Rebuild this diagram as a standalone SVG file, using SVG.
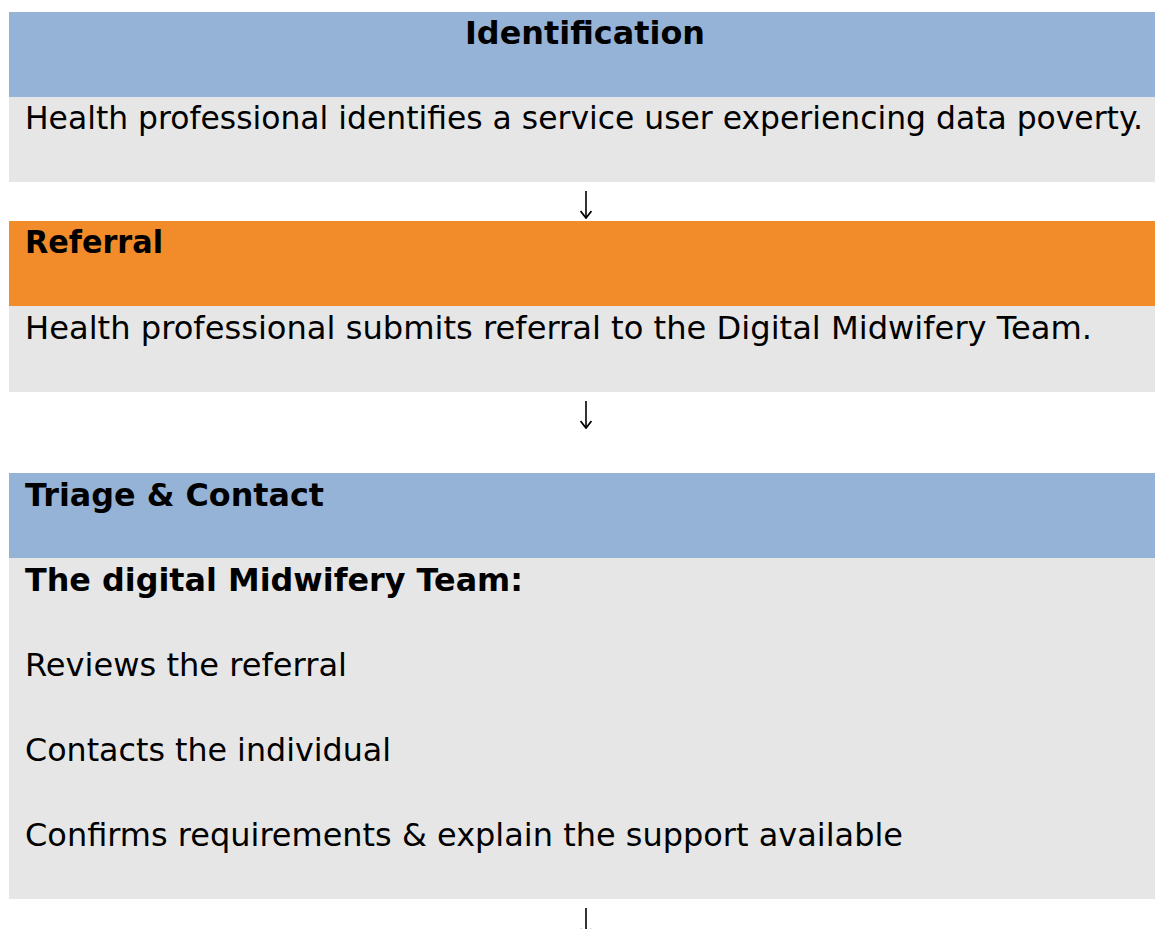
<svg xmlns="http://www.w3.org/2000/svg" width="1155" height="929" viewBox="0 0 1155 929">
  <style>
    .hdr-blue { fill: #95b3d7; }
    .hdr-orange { fill: #f28c2a; }
    .body { fill: #e6e6e6; }
    .t { font-family: "DejaVu Sans", Verdana, sans-serif; font-size: 31.5px; fill: #000; }
    .b { font-weight: bold; }
    .arrow { stroke: #000; stroke-width: 1.6; fill: none; }
  </style>
  <defs>
    <!-- open chevron head, drawn along +x so orient="auto" turns it with the line -->
    <marker id="head" viewBox="0 0 10 12" refX="9" refY="6" markerWidth="10" markerHeight="12" markerUnits="userSpaceOnUse" orient="auto">
      <path d="M2 0.5 L9 6 L2 11.5" fill="none" stroke="#000" stroke-width="1.8"/>
    </marker>
  </defs>

  <rect width="1155" height="929" fill="#fff"/>

  <!-- Step 1: identification -->
  <g id="identification">
    <rect class="hdr-blue" x="9" y="12" width="1146" height="85"/>
    <rect class="body" x="9" y="97" width="1146" height="85"/>
    <text class="t b" x="465" y="44" textLength="240" lengthAdjust="spacingAndGlyphs">Identification</text>
    <text class="t" x="25" y="129" textLength="1118" lengthAdjust="spacingAndGlyphs">Health professional identifies a service user experiencing data poverty.</text>
  </g>

  <!-- Step 2: referral -->
  <g id="referral">
    <rect class="hdr-orange" x="9" y="221" width="1146" height="85"/>
    <rect class="body" x="9" y="306" width="1146" height="86"/>
    <text class="t b" x="25" y="253" textLength="138" lengthAdjust="spacingAndGlyphs">Referral</text>
    <text class="t" x="25" y="339" textLength="1067" lengthAdjust="spacingAndGlyphs">Health professional submits referral to the Digital Midwifery Team.</text>
  </g>

  <!-- Step 3: triage and contact -->
  <g id="triage-contact">
    <rect class="hdr-blue" x="9" y="473" width="1146" height="85"/>
    <rect class="body" x="9" y="558" width="1146" height="341"/>
    <text class="t b" x="25" y="506" textLength="299" lengthAdjust="spacingAndGlyphs">Triage &amp; Contact</text>
    <text class="t b" x="25" y="591" textLength="498" lengthAdjust="spacingAndGlyphs">The digital Midwifery Team:</text>
    <text class="t" x="25" y="676" textLength="322" lengthAdjust="spacingAndGlyphs">Reviews the referral</text>
    <text class="t" x="25" y="761" textLength="366" lengthAdjust="spacingAndGlyphs">Contacts the individual</text>
    <text class="t" x="25" y="846" textLength="878" lengthAdjust="spacingAndGlyphs">Confirms requirements &amp; explain the support available</text>
  </g>

  <!-- Flow arrows between steps -->
  <g id="connectors">
    <line class="arrow" x1="586" y1="191" x2="586" y2="218" marker-end="url(#head)"/>
    <line class="arrow" x1="586" y1="401" x2="586" y2="428" marker-end="url(#head)"/>
    <line class="arrow" x1="586" y1="908" x2="586" y2="936" marker-end="url(#head)"/>
  </g>
</svg>
